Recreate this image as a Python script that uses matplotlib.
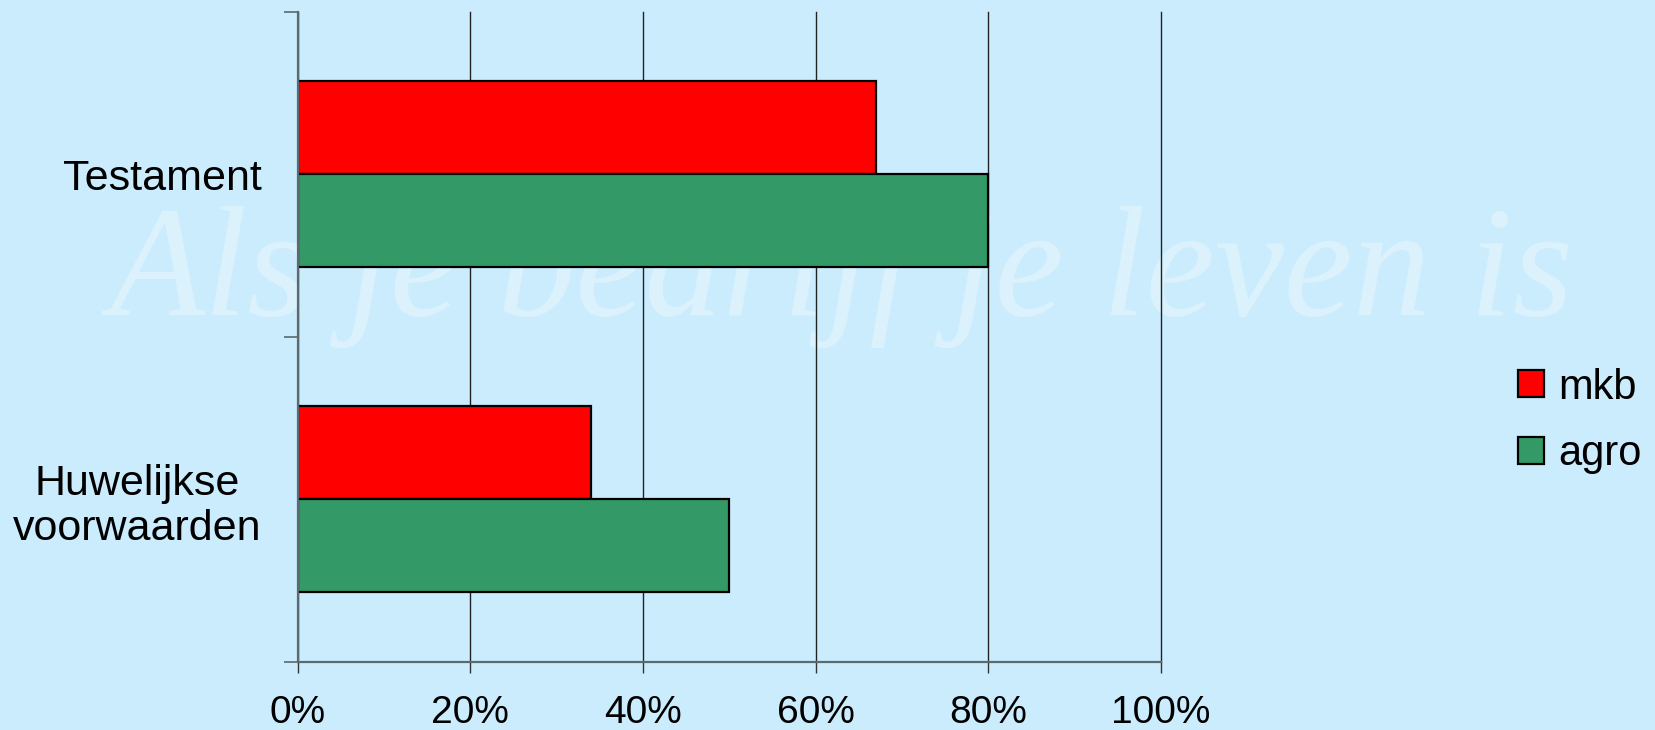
import matplotlib
matplotlib.use("Agg")
import matplotlib.pyplot as plt
from matplotlib.patches import Patch
from matplotlib.ticker import FixedLocator, PercentFormatter

categories = ["Huwelijkse\nvoorwaarden", "Testament"]
series_names = ["mkb", "agro"]
mkb = [0.34, 0.67]
agro = [0.50, 0.80]
x_ticks = [0, 0.2, 0.4, 0.6, 0.8, 1.0]
watermark = "Als je bedrijf je leven is"

BG = "#cbecfd"
RED = "#ff0000"
GREEN = "#339966"

fig = plt.figure(figsize=(16.55, 7.30), dpi=100, facecolor=BG)
ax = fig.add_axes([297.6 / 1655, 1 - 662 / 730, (1161 - 297.6) / 1655, (662 - 11.6) / 730])
ax.patch.set_alpha(0)

fig.text(842 / 1655, 1 - 315 / 730, watermark, ha="center", va="baseline",
         fontsize=112, style="italic", family="Liberation Serif", color="white",
         alpha=0.32, zorder=-1)

h = 0.286
ypos = list(range(len(categories)))
ax.barh([y + h / 2 for y in ypos], mkb, height=h, color=RED, edgecolor="black",
        linewidth=1.6, zorder=3)
ax.barh([y - h / 2 for y in ypos], agro, height=h, color=GREEN, edgecolor="black",
        linewidth=1.6, zorder=3)

ax.set_xlim(0, 1)
ax.set_ylim(-0.5, len(categories) - 0.5)
ax.xaxis.set_major_locator(FixedLocator(x_ticks))
ax.xaxis.set_major_formatter(PercentFormatter(1.0, decimals=0))
ax.grid(axis="x", color="#222222", linewidth=1.0, zorder=1)
ax.set_axisbelow(True)
for gl in ax.get_xgridlines():
    gl.set_clip_on(False)

ax.set_yticks(ypos)
ax.set_yticklabels(categories)
ax.set_yticks([y - 0.5 for y in range(len(categories) + 1)], minor=True)
ax.tick_params(axis="y", which="major", length=0, pad=26, labelsize=31)
ax.tick_params(axis="y", which="minor", length=10, width=1.2, color="#5a6a70")
ax.tick_params(axis="x", which="major", length=8, width=1.0, color="#333333",
               pad=16, labelsize=28)
for lab in ax.get_yticklabels():
    lab.set_multialignment("center")
    lab.set_family(["Liberation Sans", "DejaVu Sans"])
    lab.set_linespacing(1.15)
for lab in ax.get_xticklabels():
    lab.set_family(["Liberation Sans", "DejaVu Sans"])

for s in ["top", "right"]:
    ax.spines[s].set_visible(False)
for s in ["left", "bottom"]:
    ax.spines[s].set_color("#5a6a70")
    ax.spines[s].set_linewidth(1.6)
    ax.spines[s].set_zorder(4)

handles = [Patch(facecolor=RED, edgecolor="black", linewidth=1.6),
           Patch(facecolor=GREEN, edgecolor="black", linewidth=1.6)]
fig.legend(handles, series_names, loc="center left",
           bbox_to_anchor=(1518 / 1655, 1 - 421 / 730), frameon=False,
           prop={"family": "Liberation Sans", "size": 30},
           handlelength=0.62, handleheight=0.62, handletextpad=0.35,
           labelspacing=0.64, borderpad=0, borderaxespad=0)

fig.savefig("out.png", dpi=100, facecolor=BG)
